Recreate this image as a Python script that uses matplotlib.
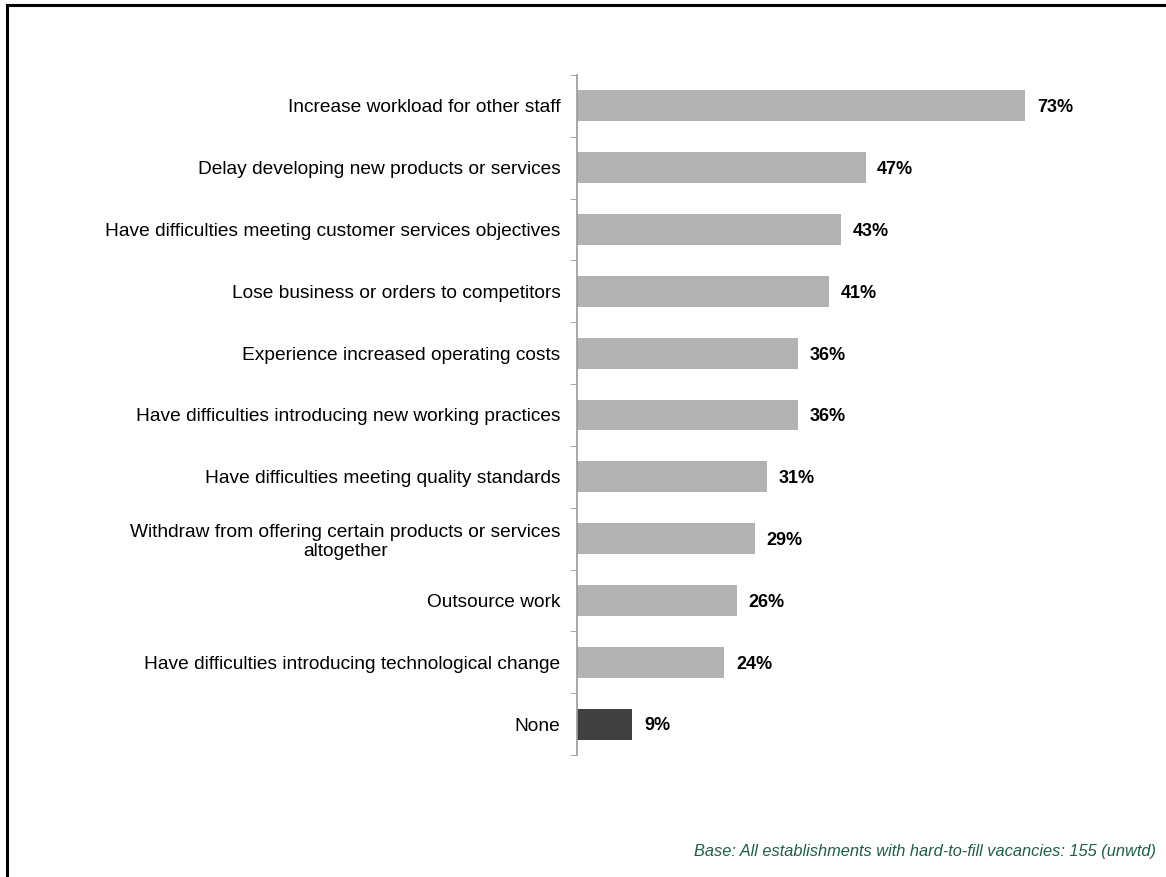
import matplotlib.pyplot as plt
from matplotlib.patches import Rectangle

plt.rcParams['font.family'] = ['Liberation Sans', 'DejaVu Sans']

categories = [
    "Increase workload for other staff",
    "Delay developing new products or services",
    "Have difficulties meeting customer services objectives",
    "Lose business or orders to competitors",
    "Experience increased operating costs",
    "Have difficulties introducing new working practices",
    "Have difficulties meeting quality standards",
    "Withdraw from offering certain products or services\naltogether",
    "Outsource work",
    "Have difficulties introducing technological change",
    "None",
]
values = [73, 47, 43, 41, 36, 36, 31, 29, 26, 24, 9]
bar_colors = ["#b2b2b2"] * 10 + ["#404040"]

fig = plt.figure(figsize=(11.66, 8.77), dpi=100)
ax = fig.add_axes([0.4949, 0.1391, 0.4211, 0.7754])

pos = list(range(len(categories)))
ax.barh(pos, values, height=0.5, color=bar_colors)
for p, v in zip(pos, values):
    ax.text(v + 1.9, p + 0.03, f"{v}%", va='center', ha='left',
            fontsize=13, fontweight='bold', color='black')

ax.set_ylim(len(categories) - 0.5, -0.5)
ax.set_xlim(0, 80)
ax.set_yticks(pos)
ax.set_yticklabels(categories, fontsize=13.8, multialignment='center',
                   linespacing=1.15)
# tick marks sit between the bars
ax.set_yticks([i - 0.5 for i in range(len(categories) + 1)], minor=True)
ax.tick_params(axis='y', which='major', length=0, pad=12)
ax.tick_params(axis='y', which='minor', length=5, color='#999999',
               direction='out')
ax.set_xticks([])
for side in ['top', 'right', 'bottom']:
    ax.spines[side].set_visible(False)
ax.spines['left'].set_color('#999999')
ax.spines['left'].set_linewidth(1.2)

fig.text(0.991, 0.02, "Base: All establishments with hard-to-fill vacancies: 155 (unwtd)",
         ha='right', va='bottom', fontsize=11.8, style='italic', color='#1e5e48')

# outer frame
fig.patches.append(Rectangle((7 / 1166, -0.1), 1.2, 1 - 5 / 877 + 0.1,
                             transform=fig.transFigure, fill=False,
                             edgecolor='black', linewidth=2.2))

fig.savefig('out.png', dpi=100)
